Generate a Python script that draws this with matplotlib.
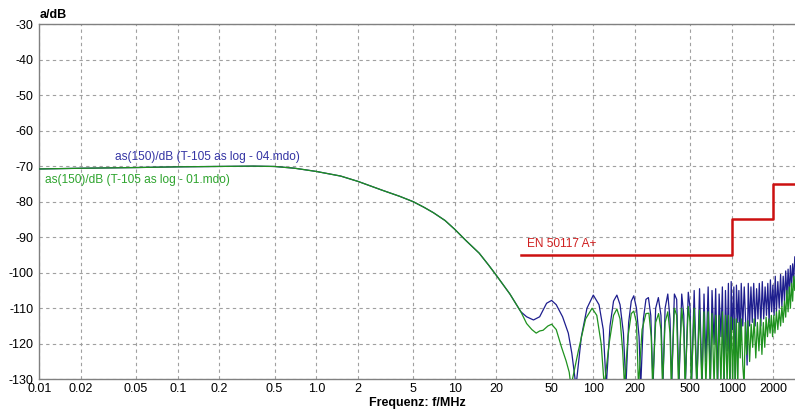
# Attenuation curves (as log 01 / 04) with EN 50117 A+ limit line
import numpy as np
import matplotlib.pyplot as plt
from matplotlib.ticker import FixedLocator, FixedFormatter, NullLocator

plt.rcParams['font.family'] = ['Liberation Sans', 'DejaVu Sans']
plt.rcParams['axes.unicode_minus'] = False

col_blue = '#1e1e8e'
col_green = '#1f921f'
col_red = '#cc1010'
col_grid = '#a0a0a0'

# Common low-frequency part (both measurements overlap)
low_f = [0.01, 0.02, 0.05, 0.1, 0.2, 0.35, 0.5, 0.7, 1.0, 1.5, 2, 3, 4, 5, 6, 7, 8.5, 10,
         12, 15, 17.5, 20, 25]
low_db = [-70.8, -70.6, -70.4, -70.2, -70.1, -70.0, -70.1, -70.6, -71.5, -72.8, -74.3,
          -76.8, -78.5, -80.0, -81.6, -83.1, -85.3, -87.8, -90.9, -94.5, -97.8, -100.8, -106.0]

# as log - 04 (blue), from 30 MHz up
blue_f = [30, 33, 37, 41, 46, 50, 54, 60, 66, 70, 75,
          82, 90, 100, 110, 118, 124, 132, 140, 148, 156, 165, 172, 180, 188, 196,
          205, 214, 220, 230, 240, 250, 260, 270, 282, 295, 308, 318, 330, 345, 358,
          368, 385, 400, 415, 435, 450, 462, 485, 500, 512, 535, 560, 585, 610, 630,
          650, 675, 700, 720, 745, 765, 790, 810, 835, 855, 880, 900, 925, 945, 970,
          990, 1010, 1035, 1060, 1080, 1105, 1125, 1150, 1170, 1200, 1230, 1260, 1290,
          1315, 1345, 1375, 1405, 1440, 1475, 1510, 1545, 1580, 1620, 1660, 1700, 1740,
          1780, 1820, 1860, 1900, 1940, 1980, 2020, 2060, 2100, 2150, 2200, 2250, 2300,
          2350, 2400, 2450, 2500, 2550, 2600, 2650, 2700, 2750, 2800, 2850, 2900, 2950, 3000]
blue_db = [-111, -112.4, -113.3, -112.4, -108.6, -107.8, -109, -112.4, -117, -122.7, -132,
           -118, -110, -106.3, -109, -116, -132, -115, -108, -106.3, -109, -117, -132, -114, -108, -106.5,
           -110, -118, -132, -113, -107.5, -107, -112, -132, -110, -107, -112, -132, -110, -106, -113,
           -132, -106, -107.5, -132, -106, -112, -132, -105.5, -110, -132, -105, -132, -104.5, -132, -106,
           -125, -104, -132, -105, -120, -104.5, -132, -106, -118, -104, -132, -105, -122, -103, -132,
           -102.5, -116, -104, -132, -103.5, -114, -105, -120, -103, -115, -104, -114, -126,
           -103, -115, -104, -114, -103, -115, -104.5, -113, -103, -115, -102.5, -113, -104,
           -112, -103, -114, -102, -111, -103.5, -112, -101, -111, -102.5, -110, -100.5, -109.5,
           -101, -108, -99.5, -107, -99, -106, -98, -104, -97.5, -102, -95.5, -99, -94, -95]

# as log - 01 (green), from 30 MHz up
green_f = [30, 33, 36, 38.7, 41, 43.4, 47, 50, 54, 59, 63.6, 67, 69,
           78, 88, 98, 106, 114, 120, 130, 140, 148, 156, 163, 168, 178, 188, 196,
           205, 212, 225, 240, 252, 262, 268, 282, 296, 308, 316, 330, 345, 358,
           366, 385, 400, 412, 435, 450, 460, 485, 500, 510, 535, 558, 585, 608, 630,
           650, 675, 698, 720, 745, 765, 788, 810, 835, 855, 878, 900, 925, 945, 968,
           990, 1015, 1035, 1058, 1080, 1105, 1125, 1150, 1170, 1200, 1228, 1250, 1280,
           1310, 1345, 1380, 1415, 1450, 1490, 1530, 1570, 1610, 1650, 1690, 1730, 1770,
           1810, 1850, 1890, 1930, 1970, 2010, 2050, 2100, 2150, 2200, 2250, 2300, 2350,
           2400, 2450, 2500, 2550, 2600, 2650, 2700, 2750, 2800, 2850, 2900, 2950, 3000]
green_db = [-111, -114.3, -116, -117, -116.4, -116.2, -115, -114.5, -116, -121, -124.8, -128, -132,
            -122, -113, -110, -112, -120, -132, -120, -112, -110.2, -113, -122, -132, -118, -111.5, -110.8,
            -114, -132, -116, -111.5, -111.4, -118, -132, -114, -111.5, -116, -132, -114, -111, -117,
            -132, -110, -112, -132, -110, -116, -132, -109.5, -114, -132, -110, -132, -110.5, -132, -111,
            -132, -111, -132, -111.5, -132, -112, -132, -112, -132, -111, -132, -112, -132, -112, -132,
            -112.5, -132, -113, -132, -113, -132, -114, -124, -113, -126, -132, -114, -123,
            -113.5, -125, -114.5, -121, -113, -124, -114, -122, -113, -123, -114, -121, -112.5,
            -118, -113, -117, -112, -118, -112, -117, -111, -116, -110.5, -115, -109.5, -114,
            -108, -112.5, -105, -111, -104, -110, -103, -108, -101, -105, -99, -102, -98]

# EN 50117 A+ limit (steps)
lim_f = [30, 1000, 1000, 2000, 2000, 3000]
lim_db = [-95, -95, -85, -85, -75, -75]

# Axis ticks
xticks = [0.01, 0.02, 0.05, 0.1, 0.2, 0.5, 1.0, 2, 5, 10, 20, 50, 100, 200, 500, 1000, 2000]
xlabels = ['0.01', '0.02', '0.05', '0.1', '0.2', '0.5', '1.0', '2', '5', '10', '20', '50',
           '100', '200', '500', '1000', '2000']
yticks = [-30, -40, -50, -60, -70, -80, -90, -100, -110, -120, -130]

fig = plt.figure(figsize=(7.95, 4.12), dpi=100)
ax = fig.add_axes([39.3/795, 1 - 379.3/412, 1 - 39.3/795, (379.3 - 24)/412])

ax.semilogx(low_f + blue_f, low_db + blue_db, color=col_blue, lw=0.9, zorder=3)
ax.semilogx(low_f + green_f, low_db + green_db, color=col_green, lw=0.9, zorder=4)
ax.plot(lim_f, lim_db, color=col_red, lw=1.8, zorder=5)

ax.set_xlim(0.01, 2860)
ax.set_ylim(-130, -30)
ax.xaxis.set_major_locator(FixedLocator(xticks))
ax.xaxis.set_major_formatter(FixedFormatter(xlabels))
ax.xaxis.set_minor_locator(NullLocator())
ax.set_yticks(yticks)
ax.tick_params(axis='both', length=0, labelsize=9, colors='black')
ax.tick_params(axis='x', pad=3)
ax.tick_params(axis='y', pad=4)
ax.grid(True, color=col_grid, ls=(0, (3, 3)), lw=0.8)

ax.spines['right'].set_visible(False)
for side in ['left', 'bottom', 'top']:
    ax.spines[side].set_color('#808080')
    ax.spines[side].set_linewidth(1.0)

# Labels
fig.text(39.5/795, 1 - 15.5/412, 'a/dB', fontsize=9, fontweight='bold', ha='left', va='center')
ax.set_xlabel('Frequenz: f/MHz', fontsize=9, fontweight='bold', labelpad=1)
fig.text(115/795, 1 - 157/412, 'as(150)/dB (T-105 as log - 04.mdo)', color='#3434a4',
         fontsize=8.6, ha='left', va='center')
fig.text(45/795, 1 - 180.5/412, 'as(150)/dB (T-105 as log - 01.mdo)', color='#2ea42e',
         fontsize=8.6, ha='left', va='center')
fig.text(527/795, 1 - 244/412, 'EN 50117 A+', color='#d02020', fontsize=8.6,
         ha='left', va='center')

plt.savefig('out.png', dpi=100)
plt.close('all')
